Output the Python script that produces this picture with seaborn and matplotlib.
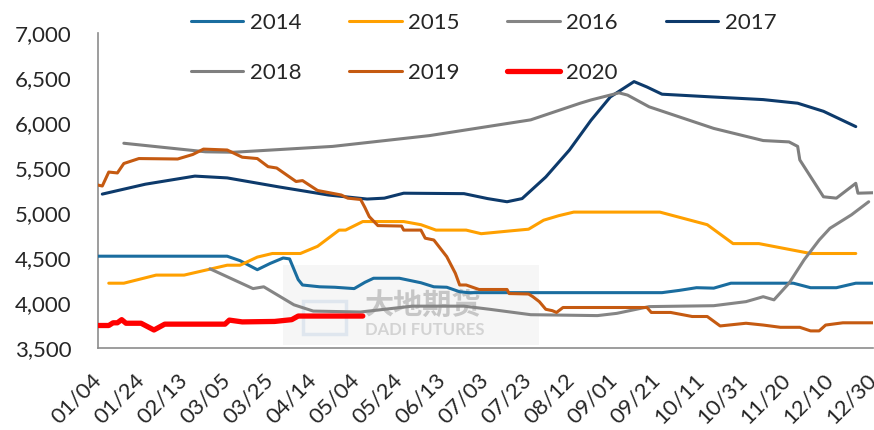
import pandas as pd
import seaborn as sns
import matplotlib.pyplot as plt
from matplotlib.ticker import FuncFormatter
from matplotlib.patches import Rectangle

# x = days counted from 01/04, y = price
tick_labels = ["01/04", "01/24", "02/13", "03/05", "03/25", "04/14", "05/04",
               "05/24", "06/13", "07/03", "07/23", "08/12", "09/01", "09/21",
               "10/11", "10/31", "11/20", "12/10", "12/30"]

d14 = [0, 60, 66, 74, 80, 86, 89, 93, 95, 103, 110, 119, 124, 128, 140, 150,
       156, 162, 168, 172, 262, 270, 278, 286, 294, 323, 331, 343, 352, 360]
v14 = [4520, 4520, 4470, 4370, 4440, 4500, 4490, 4260, 4200, 4180, 4175, 4160,
       4230, 4275, 4275, 4225, 4180, 4175, 4125, 4115, 4115, 4140, 4170, 4165,
       4220, 4220, 4170, 4170, 4220, 4220]

d15 = [5, 12, 27, 40, 60, 66, 74, 81, 94, 102, 112, 115, 123, 142, 150, 157,
       171, 178, 191, 200, 207, 214, 221, 261, 283, 295, 307, 331, 352]
v15 = [4220, 4220, 4310, 4310, 4420, 4420, 4510, 4550, 4550, 4630, 4810, 4810,
       4905, 4905, 4870, 4810, 4810, 4770, 4800, 4820, 4920, 4970, 5010, 5010,
       4870, 4660, 4660, 4550, 4550]

d16 = [52, 72, 77, 91, 100, 122, 146, 170, 182, 201, 232, 241, 256, 286, 301,
       309, 314, 321, 328, 335, 340, 350, 358]
v16 = [4380, 4160, 4180, 3980, 3910, 3900, 3965, 3965, 3930, 3870, 3860, 3885,
       3960, 3970, 4015, 4070, 4035, 4220, 4480, 4700, 4830, 4980, 5125]

d17 = [2, 22, 45, 60, 84, 107, 125, 133, 142, 170, 181, 190, 197, 208, 219,
       229, 238, 249, 255, 262, 285, 309, 325, 337, 352]
v17 = [5210, 5320, 5410, 5390, 5290, 5200, 5155, 5165, 5220, 5215, 5160, 5125,
       5160, 5400, 5700, 6030, 6290, 6460, 6400, 6320, 6290, 6260, 6220, 6130,
       5960]

d18 = [12, 50, 63, 109, 154, 201, 224, 229, 242, 246, 256, 286, 309, 321, 325,
       326, 337, 343, 352, 353, 360]
v18 = [5775, 5680, 5675, 5740, 5860, 6035, 6220, 6256, 6335, 6310, 6180, 5940,
       5805, 5790, 5740, 5590, 5180, 5165, 5330, 5220, 5225]

d19 = [0, 2, 5, 9, 12, 19, 37, 44, 49, 60, 67, 74, 79, 83, 92, 95, 102, 113,
       116, 122, 124, 126, 130, 141, 142, 150, 152, 156, 162, 166, 168, 171,
       177, 190, 191, 200, 202, 205, 208, 211, 213, 216, 255, 257, 266, 276,
       283, 289, 301, 309, 317, 326, 331, 335, 338, 346, 360]
v19 = [5310, 5300, 5455, 5445, 5550, 5605, 5600, 5650, 5710, 5700, 5620, 5605,
       5515, 5500, 5350, 5360, 5250, 5200, 5165, 5150, 5060, 4960, 4860, 4855,
       4810, 4810, 4720, 4700, 4515, 4330, 4200, 4200, 4150, 4150, 4105, 4100,
       4070, 4015, 3930, 3915, 3895, 3950, 3950, 3895, 3895, 3850, 3850, 3745,
       3775, 3755, 3730, 3730, 3690, 3690, 3755, 3780, 3780]

d20 = [0, 5, 7, 9, 11, 13, 20, 26, 31, 59, 61, 67, 82, 90, 93, 123]
v20 = [3750, 3750, 3780, 3780, 3815, 3775, 3775, 3700, 3765, 3765, 3810, 3790,
       3795, 3815, 3855, 3855]

series = [
    ("2014", d14, v14, "#1a6d9f", 2.2),
    ("2015", d15, v15, "#ffa000", 2.2),
    ("2016", d16, v16, "#858585", 2.2),
    ("2017", d17, v17, "#0d3a6b", 2.2),
    ("2018", d18, v18, "#7f7f7f", 2.2),
    ("2019", d19, v19, "#c55a11", 2.2),
    ("2020", d20, v20, "#ff0000", 3.8),
]

sns.set_style("white")
plt.rcParams["font.family"] = ["Lato", "DejaVu Sans"]

fig = plt.figure(figsize=(8.74, 4.30), dpi=100)
ax = fig.add_axes([98 / 874, 1 - 348 / 430, 775 / 874, 315 / 430])

# faint watermark of the source
ax.add_patch(Rectangle((86, 3533), 119, 890, facecolor="#f6f6f6",
                       edgecolor="none", zorder=0))
ax.add_patch(Rectangle((95, 3660), 20, 360, facecolor="none",
                       edgecolor="#dfe6ee", linewidth=2.5, zorder=1))
ax.text(124, 3975, "大地期货", fontsize=21, color="#c6c6c6", va="center",
        family=["Noto Sans CJK SC", "DejaVu Sans"], fontweight="bold", zorder=1)
ax.text(124, 3705, "DADI FUTURES", fontsize=12, color="#d3d3d3", va="center",
        fontweight="bold", zorder=1)

handles = {}
for name, d, v, color, lw in series:
    df = pd.DataFrame({"day": d, "price": v})
    sns.lineplot(data=df, x="day", y="price", color=color, linewidth=lw,
                 estimator=None, ax=ax, label=name, zorder=3)
    handles[name] = ax.get_lines()[-1]

ax.get_legend().remove()
ax.set_xlim(0, 360)
ax.set_ylim(3500, 7000)
ax.set_xticks(range(0, 361, 20))
ax.set_xticklabels(tick_labels, rotation=45, ha="right", va="center",
                   rotation_mode="anchor")
ax.yaxis.set_major_formatter(FuncFormatter(lambda x, p: f"{x:,.0f}"))
ax.set_yticks(range(3500, 7001, 500))
ax.tick_params(axis="y", length=0, pad=19, labelsize=16)
ax.tick_params(axis="x", length=0, pad=21, labelsize=16)
ax.set_xlabel("")
ax.set_ylabel("")
for s in ["top", "right"]:
    ax.spines[s].set_visible(False)
for s in ["left", "bottom"]:
    ax.spines[s].set_color("#8c8c8c")
    ax.spines[s].set_linewidth(1.2)

order = ["2014", "2018", "2015", "2019", "2016", "2020", "2017"]
fig.legend([handles[k] for k in order], order, ncol=4, frameon=False,
           loc="upper left", bbox_to_anchor=(191 / 874, 1 - 13 / 430),
           fontsize=16, handlelength=2.35, handletextpad=0.3,
           columnspacing=2.15, labelspacing=1.35, borderpad=0,
           borderaxespad=0)

fig.savefig("out.png", dpi=100)
